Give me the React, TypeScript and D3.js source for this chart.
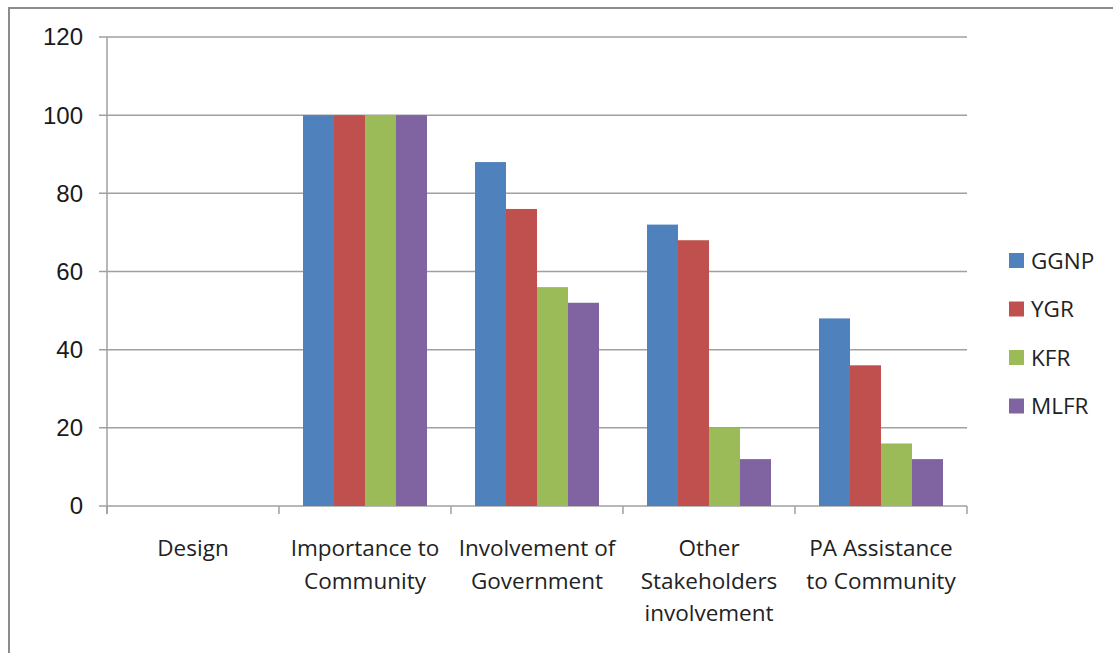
import React from "react";
import * as d3 from "d3";

const categories: string[][] = [
  ["Design"],
  ["Importance to", "Community"],
  ["Involvement of", "Government"],
  ["Other", "Stakeholders", "involvement"],
  ["PA Assistance", "to Community"],
];
const seriesNames = ["GGNP", "YGR", "KFR", "MLFR"];
const seriesColors = ["#4F81BD", "#C0504D", "#9BBB59", "#8064A2"];
const GGNP = [0, 100, 88, 72, 48];
const YGR = [0, 100, 76, 68, 36];
const KFR = [0, 100, 56, 20, 16];
const MLFR = [0, 100, 52, 12, 12];
const seriesValues = [GGNP, YGR, KFR, MLFR];
const yTicks = [0, 20, 40, 60, 80, 100, 120];

export default function App() {
  const W = 1113, H = 653;
  const left = 107, right = 967, top = 37, bottom = 506;
  const x0 = d3.scaleBand<number>().domain(d3.range(categories.length)).range([left, right]).paddingInner(0).paddingOuter(0);
  const bw = x0.bandwidth();
  const groupPad = 24 / 172;
  const x1 = d3.scaleBand<number>().domain(d3.range(seriesNames.length)).range([bw * groupPad, bw * (1 - groupPad)]);
  const y = d3.scaleLinear().domain([0, 120]).range([bottom, top]);
  const labelFont = "'Open Sans', 'Noto Sans', sans-serif";
  return (
    <svg width={W} height={H} style={{ position: "absolute", left: 0, top: 0, background: "#fff" }}>
      <rect x={9} y={8} width={W + 10} height={H + 10} fill="#fff" stroke="#8c8c8c" strokeWidth={2} />
      {yTicks.map((t) => (
        <g key={t}>
          <line x1={left - 8} x2={right} y1={y(t)} y2={y(t)} stroke="#a0a0a0" strokeWidth={1.5} />
          <text x={83} y={y(t)} dy="0.35em" textAnchor="end" fontFamily="'Liberation Sans', Arial, sans-serif" fontSize={24} fill="#1a1a1a">{t}</text>
        </g>
      ))}
      <line x1={left} x2={left} y1={top} y2={bottom + 8} stroke="#a0a0a0" strokeWidth={1.5} />
      {d3.range(categories.length + 1).map((i) => {
        const xx = left + i * bw;
        return <line key={i} x1={xx} x2={xx} y1={bottom} y2={bottom + 8} stroke="#a0a0a0" strokeWidth={1.5} />;
      })}
      {seriesValues.map((vals, s) =>
        vals.map((v, i) => (
          v > 0 ? (
            <rect key={s + "-" + i} x={(x0(i) as number) + (x1(s) as number)} y={y(v)} width={x1.bandwidth()} height={bottom - y(v)} fill={seriesColors[s]} />
          ) : null
        ))
      )}
      {categories.map((lines, i) => (
        <text key={i} x={(x0(i) as number) + bw / 2} y={556} textAnchor="middle" fontFamily={labelFont} fontSize={22.5} fill="#222">
          {lines.map((l, k) => (
            <tspan key={k} x={(x0(i) as number) + bw / 2} y={556 + k * 32.5}>{l}</tspan>
          ))}
        </text>
      ))}
      {seriesNames.map((n, s) => (
        <g key={n}>
          <rect x={1009} y={253 + s * 48.5} width={15} height={15} fill={seriesColors[s]} />
          <text x={1031} y={261 + s * 48.5} dy="0.35em" fontFamily={labelFont} fontSize={22.5} fill="#222">{n}</text>
        </g>
      ))}
    </svg>
  );
}
